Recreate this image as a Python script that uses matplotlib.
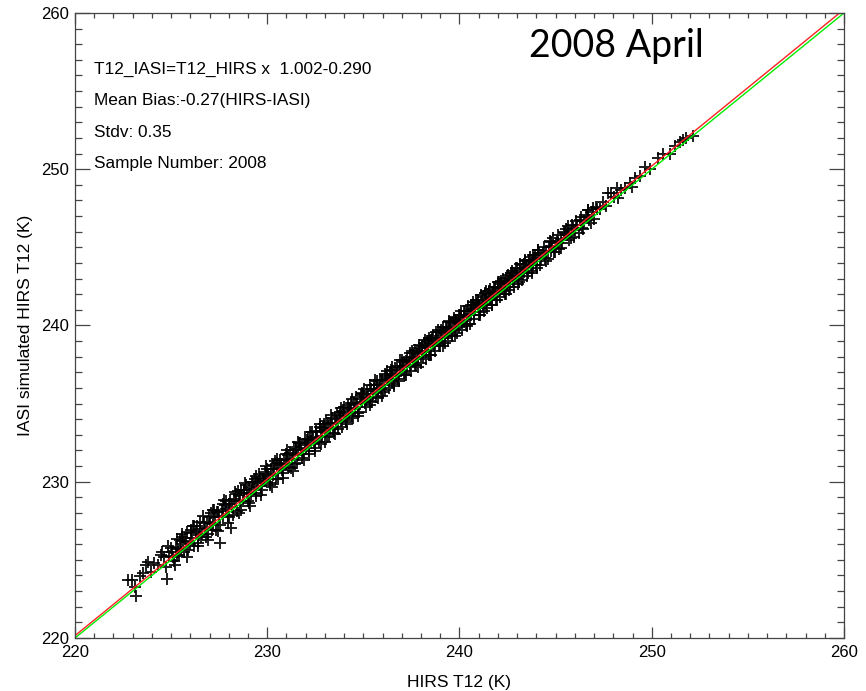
import matplotlib
matplotlib.use("Agg")
import matplotlib.pyplot as plt
import numpy as np
from matplotlib.ticker import MultipleLocator

# HIRS T12 (K) and the IASI-HIRS difference (K)
hirs_t12 = [
    222.78, 222.95, 223.12, 223.15, 223.40, 223.55, 223.70, 223.78, 223.95, 224.10,
    224.30, 224.45, 224.62, 224.78, 224.90, 225.04, 225.11, 225.23, 225.29, 225.38,
    225.46, 225.51, 225.63, 225.68, 225.77, 225.84, 225.96, 226.02, 226.09, 226.21,
    226.27, 226.33, 226.44, 226.52, 226.58, 226.69, 226.74, 226.86, 226.93, 227.01,
    227.08, 227.16, 227.27, 227.31, 227.42, 227.49, 227.55, 227.64, 227.71, 227.79,
    227.88, 227.94, 228.03, 228.12, 228.18, 228.26, 228.35, 228.41, 228.52, 228.57,
    228.66, 228.74, 228.81, 228.93, 228.98, 229.07, 229.13, 229.24, 229.30, 229.39,
    229.47, 229.53, 229.62, 229.70, 229.76, 229.85, 229.93, 230.05, 230.12, 230.21,
    230.28, 230.36, 230.47, 230.53, 230.61, 230.72, 230.78, 230.87, 230.95, 231.03,
    231.12, 231.18, 231.29, 231.35, 231.44, 231.52, 231.60, 231.71, 231.77, 231.86,
    231.94, 232.03, 232.11, 232.19, 232.26, 232.37, 232.43, 232.52, 232.60, 232.68,
    232.77, 232.85, 232.92, 233.02, 233.09, 233.17, 233.28, 233.34, 233.43, 233.51,
    233.58, 233.69, 233.75, 233.84, 233.92, 234.01, 234.08, 234.19, 234.25, 234.33,
    234.42, 234.50, 234.58, 234.67, 234.75, 234.83, 234.91, 235.00, 235.08, 235.17,
    235.24, 235.33, 235.40, 235.49, 235.57, 235.66, 235.72, 235.81, 235.90, 235.98,
    236.06, 236.15, 236.23, 236.30, 236.39, 236.47, 236.55, 236.64, 236.71, 236.80,
    236.88, 236.96, 237.05, 237.13, 237.20, 237.29, 237.37, 237.45, 237.53, 237.62,
    237.70, 237.78, 237.86, 237.95, 238.03, 238.11, 238.19, 238.28, 238.36, 238.43,
    238.52, 238.60, 238.68, 238.77, 238.84, 238.93, 239.01, 239.09, 239.18, 239.26,
    239.34, 239.42, 239.51, 239.59, 239.66, 239.75, 239.83, 239.92, 240.00, 240.08,
    240.17, 240.25, 240.33, 240.41, 240.50, 240.58, 240.65, 240.74, 240.83, 240.90,
    240.99, 241.07, 241.16, 241.24, 241.31, 241.40, 241.48, 241.57, 241.64, 241.73,
    241.81, 241.89, 241.98, 242.06, 242.14, 242.22, 242.31, 242.39, 242.47, 242.56,
    242.64, 242.71, 242.80, 242.89, 242.96, 243.05, 243.13, 243.21, 243.30, 243.38,
    243.46, 243.55, 243.63, 243.71, 243.80, 243.88, 243.97, 244.05, 244.14, 244.25,
    244.33, 244.44, 244.52, 244.63, 244.74, 244.82, 244.93, 245.05, 245.14, 245.26,
    245.35, 245.47, 245.58, 245.66, 245.79, 245.90, 246.02, 246.13, 246.25, 246.38,
    246.49, 246.62, 246.75, 246.88, 247.02, 247.15, 247.30, 247.44, 247.60, 247.75,
    247.90, 248.05, 248.18, 248.26, 248.40, 248.62, 248.85, 248.98, 249.15, 249.40,
    249.65, 249.90, 250.35, 250.60, 250.95, 251.45, 251.64, 251.80, 252.16, 251.20,
    # edge points of the band
    224.55, 224.72, 224.86, 225.00, 225.15, 225.33, 225.42, 225.58, 225.72, 225.90,
    226.05, 226.17, 226.38, 226.49, 226.63, 226.80, 226.97, 227.12, 227.23, 227.37,
    227.53, 227.68, 227.83, 227.99, 228.08, 228.22, 228.38, 228.47, 228.62, 228.78,
    228.88, 229.03, 229.19, 229.34, 229.43, 229.58, 229.73, 229.88, 230.01, 230.16,
    230.32, 230.42, 230.57, 230.68, 230.83, 230.99, 231.08, 231.24, 231.39, 231.48,
    231.57, 231.66, 231.82, 231.98, 232.07, 232.15, 232.31, 232.48, 232.56, 232.72,
    232.81, 232.97, 233.06, 233.22, 233.38, 233.47, 233.63, 233.79, 233.88, 233.97,
    234.12, 234.22, 234.37, 234.46, 234.62, 234.71, 234.87, 234.95, 235.12, 235.21,
    235.37, 235.45, 235.53, 235.69, 235.77, 235.86, 236.02, 236.11, 236.19, 236.35,
    236.43, 236.51, 236.60, 236.75, 236.84, 237.00, 237.09, 237.17, 237.25, 237.41,
    237.49, 237.58, 237.66, 237.74, 237.90, 237.99, 238.07, 238.15, 238.24, 238.32,
    238.40, 238.48, 238.56, 238.64, 238.72, 238.88, 238.97, 239.05, 239.14, 239.22,
    239.30, 239.38, 239.47, 239.55, 239.62, 239.70, 239.79, 239.87, 239.96, 240.04,
    240.12, 240.21, 240.29, 240.37, 240.45, 240.54, 240.62, 240.70, 240.78, 240.87,
    240.95, 241.03, 241.12, 241.20, 241.28, 241.35, 241.44, 241.52, 241.60, 241.69,
    241.77, 241.85, 241.94, 242.02, 242.10, 242.18, 242.27, 242.35, 242.43, 242.52,
    242.60, 242.68, 242.76, 242.85, 242.93, 243.01, 243.09, 243.17, 243.26, 243.34,
    243.42, 243.51, 243.59, 243.67, 243.76, 243.84, 243.93, 244.01, 244.10, 244.20,
    244.38, 244.58, 244.69, 244.78, 244.99, 245.10, 245.20, 245.41, 245.52, 245.72,
    245.84, 245.96, 246.08, 246.31, 246.44, 246.56, 246.69, 246.82, 246.95, 247.08,
    # outer fringe
    225.20, 225.55, 225.80, 226.12, 226.40, 226.66, 226.90, 227.20, 227.45, 227.74,
    227.97, 228.30, 228.55, 228.85, 229.10, 229.40, 229.65, 229.95, 230.25, 230.50,
    230.80, 231.05, 231.32, 231.62, 231.90, 232.22, 232.50, 232.75, 233.00, 233.30,
    233.55, 233.85, 234.15, 234.40, 234.70, 235.05, 235.35, 235.62, 235.95, 236.25,
    236.58, 236.92, 237.22, 237.55, 237.82, 238.20, 238.50, 238.80, 239.12, 239.45,
    239.75, 240.10, 240.40, 240.72, 241.05, 241.38, 241.70, 242.05, 242.40, 242.72,
    243.05, 243.40, 243.75, 244.08, 244.48, 244.88, 245.30, 245.62, 246.20, 246.70,
]
iasi_minus_hirs = [
    0.92, 0.75, 0.15, -0.45, 0.55, 0.62, 0.95, 1.10, 0.30, 0.70,
    0.40, 0.85, 0.55, -1.00, 0.35, 0.45, 0.10, 0.62, -0.05, 0.33,
    0.80, 0.21, 0.55, -0.20, 0.40, 0.95, 0.05, 0.68, 0.28, -0.35,
    0.52, 0.85, 0.12, 0.44, -0.10, 0.70, 0.30, 0.58, -0.25, 0.38,
    0.90, 0.15, 0.47, -0.40, 0.63, 0.25, -1.45, 0.50, 0.08, 0.75,
    0.35, -0.15, 0.55, -1.05, 0.20, 0.66, 0.42, -0.30, 0.60, 0.18,
    0.80, 0.02, 0.45, 0.33, -0.22, 0.58, 0.10, 0.72, 0.26, -0.12,
    0.50, 0.38, 0.65, 0.00, 0.42, 0.22, 0.55, 0.31, -0.18, 0.62,
    0.12, 0.48, -0.28, 0.70, 0.25, 0.40, -0.05, 0.58, 0.20, 0.35,
    -0.20, 0.66, 0.18, 0.45, -0.32, 0.52, 0.08, 0.75, 0.28, -0.10,
    0.42, 0.15, 0.60, -0.25, 0.33, 0.50, 0.02, 0.68, 0.22, -0.15,
    0.46, 0.10, 0.55, 0.28, -0.22, 0.62, 0.16, 0.40, -0.08, 0.52,
    0.20, -0.30, 0.45, 0.05, 0.58, 0.25, -0.12, 0.48, 0.14, 0.36,
    -0.20, 0.55, 0.08, 0.30, -0.28, 0.44, 0.18, 0.60, -0.05, 0.26,
    0.40, -0.15, 0.52, 0.12, 0.34, -0.25, 0.46, 0.20, 0.02, 0.56,
    0.16, -0.30, 0.38, 0.24, 0.50, -0.10, 0.30, 0.62, 0.06, -0.22,
    0.44, 0.18, 0.35, -0.18, 0.55, 0.10, 0.28, -0.05, 0.48, 0.22,
    -0.25, 0.40, 0.14, 0.58, 0.30, -0.12, 0.45, 0.08, 0.36, -0.30,
    0.52, 0.20, 0.02, 0.42, 0.26, -0.16, 0.60, 0.12, 0.34, -0.08,
    0.46, 0.18, 0.30, -0.22, 0.55, 0.05, 0.38, 0.22, -0.12, 0.48,
    0.14, 0.32, -0.28, 0.50, 0.24, 0.06, 0.42, -0.10, 0.30, 0.56,
    0.18, -0.20, 0.40, 0.10, 0.34, -0.05, 0.52, 0.22, 0.00, 0.44,
    0.28, -0.26, 0.36, 0.12, 0.50, 0.20, -0.12, 0.42, 0.16, 0.30,
    -0.18, 0.46, 0.08, 0.32, 0.22, -0.08, 0.40, 0.14, 0.55, 0.02,
    0.30, -0.22, 0.44, 0.18, 0.06, 0.36, -0.12, 0.26, 0.48, 0.10,
    0.34, -0.15, 0.22, 0.42, 0.05, 0.28, -0.25, 0.38, 0.12, 0.30,
    -0.05, 0.44, 0.18, 0.26, -0.18, 0.36, 0.10, 0.30, 0.48, -0.12,
    0.22, 0.35, 0.02, 0.40, -0.20, 0.28, 0.14, 0.45, 0.05, 0.70,
    0.55, 0.20, 0.62, -0.08, 0.30, 0.15, 0.25, -0.10, 0.32, 0.18,
    0.50, 0.12, 0.40, 0.38, 0.05, 0.28, 0.25, 0.20, -0.02, 0.30,
    # edge points of the band
    0.95, -0.15, 1.05, 0.75, -0.25, 1.00, -0.10, 0.88, 0.70, -0.30,
    0.85, 0.98, -0.30, 0.92, 0.05, -0.35, 0.80, -0.20, 0.95, 0.70,
    -0.30, 0.88, 0.92, -0.25, 0.78, -0.35, 0.85, 0.95, -0.40, 0.72,
    0.90, -0.38, 0.80, 0.86, -0.32, 0.92, -0.28, 0.75, 0.82, -0.35,
    0.78, 0.88, -0.40, 0.72, -0.30, 0.80, 0.65, -0.38, 0.85, 0.60,
    -0.35, 0.82, -0.28, 0.76, 0.62, -0.40, 0.88, -0.30, 0.70, 0.80,
    -0.42, 0.74, 0.85, -0.30, 0.68, -0.38, 0.78, 0.66, -0.35, 0.80,
    -0.32, 0.72, 0.64, -0.40, 0.82, -0.28, 0.70, 0.76, -0.36, 0.62,
    0.80, -0.34, 0.68, 0.74, -0.40, 0.66, -0.30, 0.78, 0.60, -0.36,
    0.72, 0.84, -0.32, 0.64, -0.42, 0.76, 0.58, -0.34, 0.70, 0.80,
    -0.38, 0.66, 0.74, -0.30, 0.82, -0.36, 0.60, 0.72, -0.40, 0.68,
    0.78, -0.34, 0.64, 0.70, -0.38, 0.84, -0.30, 0.66, 0.74, -0.36,
    0.62, -0.40, 0.76, 0.68, -0.32, 0.80, 0.58, -0.36, 0.72, 0.66,
    -0.38, 0.74, 0.64, -0.30, 0.78, -0.42, 0.70, 0.62, -0.34, 0.76,
    0.68, -0.36, 0.80, 0.60, -0.38, 0.72, -0.30, 0.66, 0.76, -0.40,
    0.70, 0.62, -0.34, 0.78, -0.28, 0.66, 0.72, -0.36, 0.60, 0.74,
    -0.32, 0.68, 0.58, -0.38, 0.72, 0.64, -0.30, 0.76, -0.36, 0.62,
    0.70, -0.34, 0.60, 0.74, -0.28, 0.66, 0.58, -0.36, 0.72, -0.30,
    0.64, -0.30, 0.70, 0.56, -0.26, 0.68, -0.32, 0.60, 0.66, -0.28,
    0.62, -0.30, 0.58, 0.66, -0.24, 0.54, 0.70, -0.28, 0.60, 0.50,
    # outer fringe
    -0.55, 1.10, -0.60, 1.05, -0.50, 1.12, -0.65, 1.00, -0.58, 1.08,
    -0.62, 1.02, -0.55, 1.06, -0.68, 0.98, -0.52, 1.04, -0.60, 0.96,
    -0.58, 1.00, -0.62, 0.94, -0.50, 0.98, -0.56, 0.92, -0.48, 0.95,
    -0.52, 0.90, -0.46, 0.88, -0.50, 0.86, -0.44, 0.90, -0.48, 0.84,
    -0.46, 0.86, -0.42, 0.82, -0.48, 0.84, -0.40, 0.80, -0.44, 0.82,
    -0.40, 0.80, -0.46, 0.78, -0.38, 0.82, -0.42, 0.76, -0.40, 0.78,
    -0.38, 0.76, -0.42, 0.74, -0.36, 0.72, -0.34, 0.76, -0.30, 0.70,
]

fit_slope = 1.002
fit_offset = -0.290
stats_lines = [
    "T12_IASI=T12_HIRS x  1.002-0.290",
    "Mean Bias:-0.27(HIRS-IASI)",
    "Stdv: 0.35",
    "Sample Number: 2008",
]
title_text = "2008 April"
axis_range = [220, 260]

plt.rcParams['font.family'] = ['Liberation Sans', 'DejaVu Sans']

x = np.array(hirs_t12)
y = x + np.array(iasi_minus_hirs)

fig = plt.figure(figsize=(8.66, 6.91), dpi=100)
ax = fig.add_axes([0.0866, 0.0767, 0.8880, 0.9045])

ax.plot(x, y, linestyle='none', marker='+', color='black', markersize=8.3,
        markeredgewidth=1.4, alpha=0.88)

ref = np.array(axis_range, dtype=float)
ax.plot(ref, ref, color='#00ee00', lw=1.0)
ax.plot(ref, fit_slope * ref + fit_offset, color='#ff2020', lw=1.0)

ax.set_xlim(axis_range)
ax.set_ylim(axis_range)
ax.xaxis.set_major_locator(MultipleLocator(10))
ax.xaxis.set_minor_locator(MultipleLocator(1))
ax.yaxis.set_major_locator(MultipleLocator(10))
ax.yaxis.set_minor_locator(MultipleLocator(1))
ax.tick_params(which='both', direction='in', top=True, right=True,
               labelsize=12, color='#444444', width=0.9)
ax.tick_params(axis='x', which='major', length=8, pad=5)
ax.tick_params(axis='x', which='minor', length=3.5)
ax.tick_params(axis='y', which='major', length=10.5, pad=4)
ax.tick_params(axis='y', which='minor', length=5)
for s in ax.spines.values():
    s.set_color('#444444')
    s.set_linewidth(0.9)

ax.set_xlabel("HIRS T12 (K)", fontsize=12.5, labelpad=11)
ax.set_ylabel("IASI simulated HIRS T12 (K)", fontsize=12.5, labelpad=6)

for i, line in enumerate(stats_lines):
    ax.text(0.0245, 0.910 - i * 0.0505, line, transform=ax.transAxes,
            fontsize=12.4, va='center', ha='left')

ax.text(0.590, 0.9296, title_text, transform=ax.transAxes, fontsize=27,
        family=['Lato', 'DejaVu Sans'], va='baseline', ha='left')

fig.savefig("out.png", dpi=100)
